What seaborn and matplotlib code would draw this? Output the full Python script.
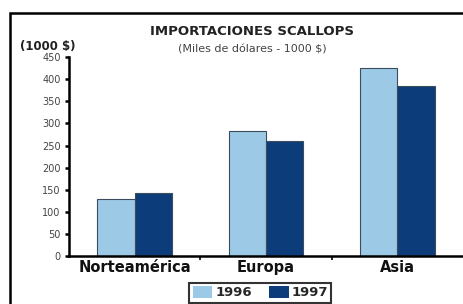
import numpy as np
import matplotlib
matplotlib.use('Agg')
import matplotlib.pyplot as plt
import matplotlib.patches as mpatches
import seaborn as sns
import pandas as pd

# --- Data ---
regions = ['Norteamérica', 'Europa', 'Asia']
years = ['1996', '1997']
imports_1996 = [130, 282, 426]
imports_1997 = [143, 260, 384]
yticks = [0, 50, 100, 150, 200, 250, 300, 350, 400, 450]

colors = {'1996': '#9ccae6', '1997': '#0c3d7a'}

df = pd.DataFrame({
    'region': regions * 2,
    'year': [years[0]] * 3 + [years[1]] * 3,
    'value': imports_1996 + imports_1997,
})

sns.set_style('white')
plt.rcParams['font.family'] = ['DejaVu Sans']

fig = plt.figure(figsize=(4.63, 3.04), dpi=100)
ax = fig.add_axes([0.149, 0.158, 0.851, 0.654])

sns.barplot(data=df, x='region', y='value', hue='year', order=regions,
            hue_order=years, palette=colors, saturation=1, width=0.57, gap=0,
            edgecolor='#3c4c5c', linewidth=0.8, legend=False, ax=ax)

ax.set_xlim(-0.5, 2.5)
ax.set_ylim(0, 450)
ax.set_yticks(yticks)
ax.set_yticklabels([str(t) for t in yticks], fontsize=7, color='#444444')
ax.set_xticks(range(len(regions)))
ax.set_xticklabels(regions, fontsize=10.5, fontweight='bold', color='#111111')
ax.set_xticks([0.5, 1.5], minor=True)
ax.tick_params(axis='y', which='major', direction='out', length=3, width=1.8,
               color='black', left=True, pad=3)
ax.tick_params(axis='x', which='major', length=0, pad=3)
ax.tick_params(axis='x', which='minor', direction='out', length=3, width=1.2,
               color='black', bottom=True)
ax.set_xlabel('')
ax.set_ylabel('')
for side in ['top', 'right']:
    ax.spines[side].set_visible(False)
for side in ['left', 'bottom']:
    ax.spines[side].set_color('black')
    ax.spines[side].set_linewidth(1.8)

# --- Titles ---
fig.text(0.545, 0.895, 'IMPORTACIONES SCALLOPS', ha='center', va='center',
         fontsize=9.5, fontweight='bold', color='#222222')
fig.text(0.545, 0.838, '(Miles de dólares - 1000 $)', ha='center', va='center',
         fontsize=8, color='#444444')
fig.text(0.043, 0.848, '(1000 $)', ha='left', va='center',
         fontsize=8.5, fontweight='bold', color='#222222')

# --- Outer frame ---
frame = mpatches.Rectangle((0.022, -0.1), 1.2, 1.057, transform=fig.transFigure,
                           fill=False, edgecolor='black', linewidth=1.8,
                           clip_on=False)
fig.patches.append(frame)

# --- Legend ---
handles = [mpatches.Patch(facecolor=colors[y], edgecolor='none', label=y) for y in years]
leg = fig.legend(handles=handles, loc='upper center', bbox_to_anchor=(0.562, 0.07),
                 ncol=2, frameon=True, fancybox=False, fontsize=9.5,
                 handlelength=1.5, handleheight=1.0, handletextpad=0.2,
                 columnspacing=1.3, borderpad=0.25, borderaxespad=0)
leg.get_frame().set_edgecolor('black')
leg.get_frame().set_linewidth(1.5)
for t in leg.get_texts():
    t.set_fontweight('bold')

fig.savefig('out.png', dpi=100)
